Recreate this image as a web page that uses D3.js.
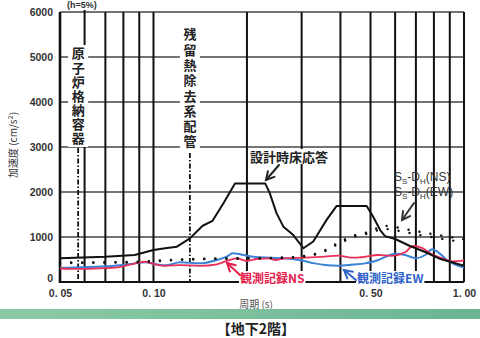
<!DOCTYPE html>
<html>
<head>
<meta charset="utf-8">
<script src="https://cdn.jsdelivr.net/npm/d3@7"></script>
<style>
  body { margin: 0; background: #fff; }
  svg { display: block; }
  .tick text { font-family: "Liberation Sans", sans-serif; font-weight: bold; fill: #333; }
</style>
</head>
<body>
<div id="chart"></div>
<script>
// periods (s) and acceleration (cm/s2)
const designFloor = [
  [0.05, 530], [0.07, 560], [0.087, 600], [0.1, 710], [0.109, 750], [0.119, 785],
  [0.131, 970], [0.144, 1250], [0.155, 1360], [0.168, 1750], [0.183, 2190],
  [0.229, 2190], [0.237, 1970], [0.249, 1530], [0.262, 1230], [0.282, 1044],
  [0.304, 750], [0.327, 900], [0.361, 1380], [0.389, 1690], [0.486, 1690],
  [0.51, 1450], [0.537, 1155], [0.557, 1020], [0.6, 955], [0.67, 800],
  [0.75, 667], [0.84, 510], [1.0, 360],
];
const ssNS = [
  [0.05, 430], [0.07, 440], [0.09, 450], [0.1, 470], [0.12, 500], [0.15, 520],
  [0.2, 530], [0.25, 540], [0.3, 570], [0.35, 680], [0.4, 900], [0.45, 1050],
  [0.5, 1120], [0.55, 1250], [0.6, 1220], [0.7, 1130], [0.8, 1060], [0.9, 1000], [1.0, 950],
];
const ssEW = [
  [0.05, 420], [0.07, 430], [0.09, 440], [0.1, 455], [0.12, 490], [0.15, 510],
  [0.2, 520], [0.25, 530], [0.3, 560], [0.35, 660], [0.4, 870], [0.45, 1020],
  [0.5, 1090], [0.55, 1180], [0.6, 1150], [0.7, 1060], [0.8, 990], [0.9, 930], [1.0, 890],
];
const obsNS = [
  [0.05, 300], [0.056, 290], [0.065, 300], [0.075, 318], [0.081, 360], [0.087, 410],
  [0.094, 450], [0.101, 395], [0.109, 360], [0.122, 375], [0.141, 360], [0.16, 393],
  [0.172, 467], [0.185, 526], [0.2, 467], [0.215, 511], [0.237, 526], [0.246, 489],
  [0.265, 526], [0.308, 541], [0.357, 563], [0.393, 585], [0.435, 541], [0.48, 560],
  [0.529, 600], [0.585, 580], [0.646, 660], [0.685, 800], [0.731, 760], [0.777, 640],
  [0.847, 530], [0.921, 460], [1.0, 480],
];
const obsEW = [
  [0.05, 310], [0.065, 340], [0.075, 362], [0.087, 414], [0.094, 437], [0.101, 400],
  [0.109, 370], [0.122, 437], [0.141, 414], [0.16, 489], [0.172, 563], [0.18, 637],
  [0.195, 600], [0.21, 563], [0.237, 541], [0.265, 526], [0.3, 480], [0.331, 414],
  [0.357, 378], [0.393, 362], [0.44, 390], [0.48, 414], [0.53, 490], [0.6, 630],
  [0.646, 600], [0.7, 530], [0.75, 600], [0.79, 730], [0.84, 620], [0.88, 490],
  [0.94, 380], [1.0, 320],
];
const xGrid = [0.06, 0.07, 0.08, 0.09, 0.1, 0.2, 0.3, 0.4, 0.5, 0.6, 0.7, 0.8, 0.9, 1.0];
const yGrid = [1000, 2000, 3000, 4000, 5000, 6000];
const xTicks = [0.05, 0.1, 0.5, 1.0];
const xTickLabels = ["0. 05", "0. 10", "0. 50", "1. 00"];
const yTicks = [0, 1000, 2000, 3000, 4000, 5000, 6000];
const containmentPeriod = 0.0572;
const rhrPipePeriod = 0.131;

const width = 480;
const height = 338;
const margin = { top: 12, right: 16, bottom: 56, left: 60 };
const jp = '"Noto Sans CJK JP", sans-serif';

const x = d3.scaleLog().domain([0.05, 1.0]).range([margin.left, width - margin.right]);
const y = d3.scaleLinear().domain([0, 6000]).range([height - margin.bottom, margin.top]);

const svg = d3.select("#chart").append("svg")
  .attr("width", width).attr("height", height);

// grid
svg.append("g").selectAll("line").data(yGrid).join("line")
  .attr("x1", x(0.05)).attr("x2", x(1.0))
  .attr("y1", d => y(d)).attr("y2", d => y(d))
  .attr("stroke", "#444").attr("stroke-width", 1.4);
svg.append("g").selectAll("line").data(xGrid).join("line")
  .attr("x1", d => x(d)).attr("x2", d => x(d))
  .attr("y1", y(0)).attr("y2", d => d === 0.06 ? 10 : y(6000))
  .attr("stroke", "#111").attr("stroke-width", 2);

// axes
const yAxis = svg.append("g")
  .attr("transform", `translate(${x(0.05) - 4},0)`)
  .call(d3.axisLeft(y).tickValues(yTicks).tickSize(0).tickFormat(d3.format("d")));
yAxis.select(".domain").remove();
yAxis.selectAll("text").attr("font-size", 10.5)
  .attr("dy", d => d === 0 ? "-0.05em" : "0.32em");

const xAxis = svg.append("g")
  .attr("transform", `translate(0,${y(0)})`)
  .call(d3.axisBottom(x).tickValues(xTicks).tickSize(0).tickFormat((d, i) => xTickLabels[i]));
xAxis.select(".domain").remove();
xAxis.selectAll("text").attr("font-size", 10.5).attr("dy", "1.15em");

svg.append("line")
  .attr("x1", x(0.05)).attr("x2", x(1.0)).attr("y1", y(0)).attr("y2", y(0))
  .attr("stroke", "#111").attr("stroke-width", 2.2);
svg.append("line")
  .attr("x1", x(0.05)).attr("x2", x(0.05)).attr("y1", y(0) + 1).attr("y2", y(6000))
  .attr("stroke", "#111").attr("stroke-width", 2.6);

// vertical annotation: dash-dot line and vertical text
function vLabel(period, label, top, len, lineTop) {
  const cx = x(period);
  svg.append("line")
    .attr("x1", cx).attr("x2", cx).attr("y1", lineTop).attr("y2", y(0))
    .attr("stroke", "#111").attr("stroke-width", 1.8)
    .attr("stroke-dasharray", "5,2,1.5,2");
  svg.append("rect")
    .attr("x", cx - 10).attr("y", top - 2)
    .attr("width", 20).attr("height", len + 4)
    .attr("fill", "#fff");
  svg.append("text")
    .attr("x", cx).attr("y", top)
    .style("writing-mode", "vertical-rl")
    .attr("textLength", len).attr("lengthAdjust", "spacing")
    .attr("font-family", jp).attr("font-weight", "bold").attr("font-size", 13)
    .attr("fill", "#222")
    .text(label);
}
vLabel(containmentPeriod, "原子炉格納容器", 47, 98, 148);
vLabel(rhrPipePeriod, "残留熱除去系配管", 28, 120, 153);

// curves
const line = d3.line().x(d => x(d[0])).y(d => y(d[1])).curve(d3.curveMonotoneX);
svg.append("path").datum(obsEW).attr("d", line)
  .attr("fill", "none").attr("stroke", "#3b82d6").attr("stroke-width", 2);
svg.append("path").datum(obsNS).attr("d", line)
  .attr("fill", "none").attr("stroke", "#e8305a").attr("stroke-width", 1.8);
[ssNS, ssEW].forEach(s => svg.append("path").datum(s).attr("d", line)
  .attr("fill", "none").attr("stroke", "#111").attr("stroke-width", 2.4)
  .attr("stroke-linecap", "round").attr("stroke-dasharray", "0.1,11"));
svg.append("path").datum(designFloor).attr("d", d3.line().x(d => x(d[0])).y(d => y(d[1])))
  .attr("fill", "none").attr("stroke", "#111").attr("stroke-width", 2)
  .attr("stroke-linejoin", "round");

// arrows
function arrow(x1, y1, x2, y2, color) {
  const a = Math.atan2(y2 - y1, x2 - x1);
  const h = 9, s = 0.5;
  const g = svg.append("g").attr("stroke", color).attr("stroke-width", 2)
    .attr("fill", "none").attr("stroke-linecap", "round");
  g.append("line").attr("x1", x1).attr("y1", y1).attr("x2", x2).attr("y2", y2);
  g.append("path").attr("d",
    `M${x2 - h * Math.cos(a - s)},${y2 - h * Math.sin(a - s)}L${x2},${y2}L${x2 - h * Math.cos(a + s)},${y2 - h * Math.sin(a + s)}`);
}

// text labels
function label(tx, ty, str, color, size, bg) {
  const t = svg.append("text").attr("x", tx).attr("y", ty)
    .attr("font-family", jp).attr("font-weight", "bold").attr("font-size", size)
    .attr("fill", color).text(str);
  if (bg) {
    const b = t.node().getBBox();
    svg.insert("rect", () => t.node()).attr("x", b.x - 1).attr("y", b.y + 2)
      .attr("width", b.width + 2).attr("height", b.height - 4).attr("fill", "#fff");
  }
  return t;
}
label(250, 162, "設計時床応答", "#222", 13, true);
arrow(279, 165, 266, 180, "#222");

const ss = svg.append("g").attr("font-family", "Liberation Sans, sans-serif")
  .attr("font-size", 12).attr("fill", "#333");
["(NS)", "(EW)"].forEach((dir, i) => {
  const t = ss.append("text").attr("x", 394).attr("y", 181 + i * 15);
  t.append("tspan").text("S");
  t.append("tspan").attr("font-size", 8).attr("dy", 3).text("S");
  t.append("tspan").attr("dy", -3).text("-D");
  t.append("tspan").attr("font-size", 8).attr("dy", 3).text("H");
  t.append("tspan").attr("dy", -3).text(dir);
});
arrow(414, 203, 402, 220, "#333");

label(240, 283, "観測記録NS", "#e4204a", 12, true);
arrow(240, 275, 227, 263, "#e4204a");
label(357, 283, "観測記録EW", "#2f62c9", 12, true);
arrow(356, 280, 344, 270, "#2f62c9");

svg.append("text").attr("x", 82).attr("y", 8)
  .attr("text-anchor", "middle").attr("font-family", "Liberation Sans, sans-serif")
  .attr("font-weight", "bold").attr("font-size", 9).attr("fill", "#333").text("(h=5%)");

svg.append("text")
  .attr("transform", `translate(17,${(y(0) + y(6000)) / 2 - 2}) rotate(-90)`)
  .attr("text-anchor", "middle").attr("font-family", jp).attr("font-size", 10)
  .attr("fill", "#333").text("加速度 (cm/s²)");

svg.append("text").attr("x", 256).attr("y", 308).attr("text-anchor", "middle")
  .attr("font-family", jp).attr("font-size", 10).attr("fill", "#555").text("周期 (s)");

// band and caption
const grad = svg.append("defs").append("linearGradient").attr("id", "band");
grad.append("stop").attr("offset", "0%").attr("stop-color", "#8ccaa6");
grad.append("stop").attr("offset", "100%").attr("stop-color", "#6cb592");
svg.append("rect").attr("x", 0).attr("y", 309).attr("width", width).attr("height", 10)
  .attr("fill", "url(#band)");
svg.append("text").attr("x", 256).attr("y", 334).attr("text-anchor", "middle")
  .attr("font-family", jp).attr("font-weight", "bold").attr("font-size", 14)
  .attr("fill", "#222").text("【地下2階】");
</script>
</body>
</html>
